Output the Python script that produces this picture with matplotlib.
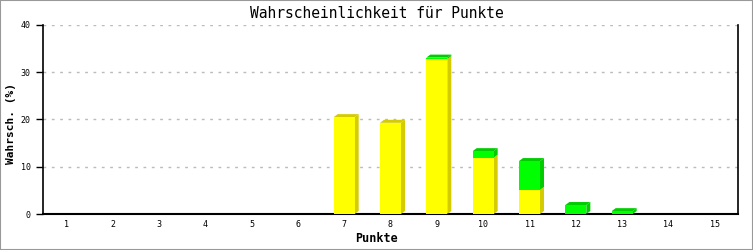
import matplotlib
matplotlib.use("Agg")
import matplotlib.pyplot as plt
from matplotlib.patches import Polygon, Rectangle

categories = [str(i) for i in range(1, 16)]
yellow = [0, 0, 0, 0, 0, 0, 20.5, 19.3, 32.8, 11.9, 5.1, 0, 0, 0, 0]
green = [0, 0, 0, 0, 0, 0, 0, 0, 0.3, 1.4, 6.1, 1.9, 0.6, 0, 0]
yticks = [0, 10, 20, 30, 40]

YEL, YEL_D = "#ffff00", "#d4cc00"
GRN, GRN_D = "#00ff00", "#00cc00"

W, H = 753, 250
fig = plt.figure(figsize=(W / 100, H / 100), dpi=100)
fig.patch.set_facecolor("white")
fig.add_artist(Rectangle((0, 0), 1, 1, transform=fig.transFigure, fill=False,
                         edgecolor="#999999", linewidth=1.5))

L, R, T, B = 43, 738, 25, 214
ax = fig.add_axes([L / W, 1 - B / H, (R - L) / W, (B - T) / H])
ax.set_xlim(0.5, 15.5)
ax.set_ylim(0, 40)

px_x = 15 / (R - L)
px_y = 40 / (B - T)
dx, dy = 4 * px_x, 3 * px_y
bw = 21 * px_x

font = "DejaVu Sans Mono"

for i, (yv, gv) in enumerate(zip(yellow, green)):
    x = i + 1
    total = yv + gv
    if total <= 0:
        continue
    x0, x1 = x - bw / 2, x + bw / 2
    segs = []
    if yv > 0:
        segs.append((0, yv, YEL, YEL_D))
    if gv > 0:
        segs.append((yv, total, GRN, GRN_D))
    for (b0, b1, c, cd) in segs:
        side = Polygon([(x1, b0), (x1 + dx, b0 + dy if b0 > 0 else dy),
                        (x1 + dx, b1 + dy), (x1, b1)], closed=True,
                       facecolor=cd, edgecolor="none", zorder=3)
        ax.add_patch(side)
        ax.add_patch(Rectangle((x0, b0), bw, b1 - b0, facecolor=c, edgecolor="none", zorder=4))
    topc = segs[-1][3]
    top = Polygon([(x0, total), (x0 + dx, total + dy), (x1 + dx, total + dy), (x1, total)],
                  closed=True, facecolor=topc, edgecolor="none", zorder=3)
    ax.add_patch(top)

ax.set_yticks(yticks)
ax.set_yticklabels([str(v) for v in yticks], fontsize=6, family=font)
ax.set_xticks(range(1, 16))
ax.set_xticklabels(categories, fontsize=6, family=font)
ax.tick_params(axis="x", length=0, pad=4)
ax.tick_params(axis="y", length=5, width=1, pad=4, direction="out")
ax.yaxis.grid(True, linestyle=(0, (2, 4)), color="#bbbbbb", linewidth=1)
ax.set_axisbelow(True)
for s in ["left", "bottom", "right"]:
    ax.spines[s].set_linewidth(1.2)
    ax.spines[s].set_color("black")
ax.spines["top"].set_visible(False)
ax.spines["bottom"].set_linewidth(1.5)

fig.text(0.5, 1 - 13 / H, "Wahrscheinlichkeit für Punkte", ha="center", va="center",
         fontsize=10.5, family=font)
fig.text(0.5, 1 - 239 / H, "Punkte", ha="center", va="center",
         fontsize=8.5, family=font, fontweight="bold")
fig.text(11 / W, 1 - 123 / H, "Wahrsch. (%)", rotation=90, ha="center", va="center",
         fontsize=8, family=font, fontweight="bold")

fig.savefig("out.png", dpi=100, facecolor="white")
